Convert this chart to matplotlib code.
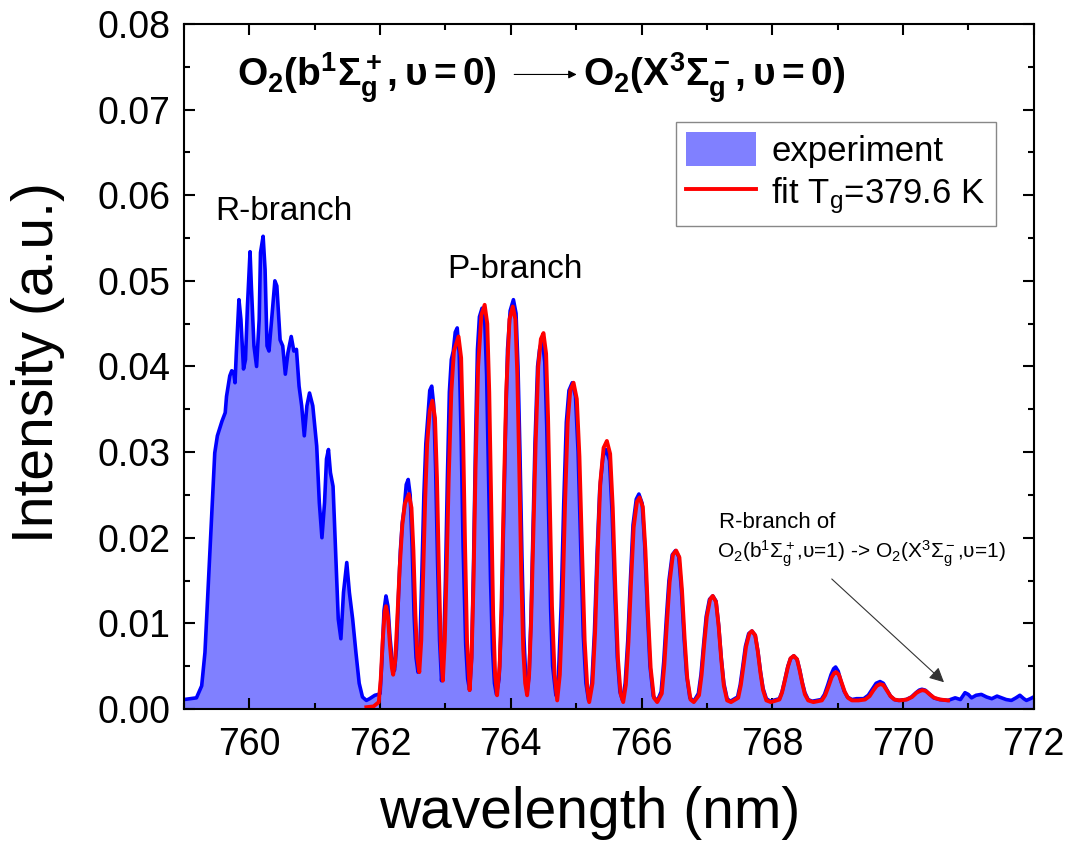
import numpy as np
import matplotlib
matplotlib.use("Agg")
import matplotlib.pyplot as plt
from matplotlib.patches import Patch
from matplotlib.lines import Line2D
from matplotlib.ticker import MultipleLocator, FormatStrFormatter

plt.rcParams['font.family'] = ['Liberation Sans', 'DejaVu Sans']
plt.rcParams['mathtext.fontset'] = 'custom'
plt.rcParams['mathtext.rm'] = 'Liberation Sans'
plt.rcParams['mathtext.it'] = 'Liberation Sans:italic'
plt.rcParams['mathtext.bf'] = 'Liberation Sans:bold'

exp_wl = [759.00, 759.09, 759.19, 759.27, 759.32, 759.37, 759.42, 759.47, 759.51, 759.58,
          759.63, 759.65, 759.70, 759.73, 759.76, 759.78, 759.80, 759.84, 759.87, 759.91,
          759.94, 759.97, 760.01, 760.03, 760.07, 760.11, 760.15, 760.17, 760.21, 760.24,
          760.27, 760.30, 760.34, 760.39, 760.42, 760.47, 760.51, 760.55, 760.59, 760.64,
          760.68, 760.72, 760.76, 760.80, 760.84, 760.88, 760.92, 760.97, 761.03, 761.07,
          761.11, 761.15, 761.18, 761.21, 761.24, 761.28, 761.32, 761.36, 761.40, 761.44,
          761.49, 761.53, 761.58, 761.63, 761.68, 761.73, 761.79, 761.84, 761.92, 761.97,
          762.00, 762.03, 762.06, 762.09, 762.12, 762.15, 762.19, 762.22,
          762.25, 762.28, 762.31, 762.34, 762.37, 762.40, 762.43, 762.46, 762.49, 762.52, 762.55, 762.58,
          762.61, 762.64, 762.67, 762.70, 762.73, 762.76, 762.79, 762.82, 762.85, 762.88, 762.91, 762.94,
          762.97, 763.00, 763.03, 763.06, 763.09, 763.12, 763.15, 763.18, 763.21, 763.24, 763.27, 763.31,
          763.34, 763.37,
          763.40, 763.43, 763.46, 763.49, 763.52, 763.56, 763.60, 763.63, 763.66, 763.69, 763.72, 763.75,
          763.78,
          763.82, 763.86, 763.89, 763.92, 763.95, 763.99, 764.04, 764.08, 764.11, 764.14, 764.17, 764.20,
          764.23, 764.25,
          764.28, 764.31, 764.34, 764.37, 764.41, 764.44, 764.48, 764.52, 764.55, 764.58, 764.61, 764.64,
          764.69,
          764.73, 764.77, 764.81, 764.85, 764.89, 764.94, 764.99, 765.03, 765.07, 765.11, 765.15, 765.19,
          765.24, 765.28, 765.32, 765.36, 765.41, 765.46, 765.51, 765.55, 765.59, 765.63, 765.67, 765.71,
          765.75, 765.79, 765.83, 765.87, 765.92, 765.96, 766.01, 766.05, 766.09, 766.13, 766.18, 766.24,
          766.30, 766.34, 766.38, 766.42, 766.47, 766.52, 766.57, 766.61, 766.65, 766.69, 766.74, 766.80,
          766.87, 766.91, 766.95, 766.99, 767.04, 767.09, 767.14, 767.18, 767.22, 767.26, 767.31, 767.36,
          767.47, 767.51, 767.55, 767.59, 767.64, 767.69, 767.74, 767.78, 767.82, 767.86, 767.91, 767.97,
          768.11, 768.15, 768.19, 768.24, 768.28, 768.33, 768.38, 768.42, 768.46, 768.50, 768.55, 768.61,
          768.75, 768.80, 768.85, 768.90, 768.94, 768.97, 769.01, 769.05, 769.10, 769.15, 769.22, 769.29,
          769.40, 769.47, 769.53, 769.59, 769.65, 769.70, 769.75, 769.81, 769.87, 769.93,
          770.05, 770.13, 770.20, 770.25, 770.29, 770.34, 770.40, 770.47, 770.56, 770.69,
          770.80, 770.88, 770.95, 771.00, 771.05, 771.12, 771.20, 771.28, 771.36, 771.44,
          771.51, 771.58, 771.66, 771.73, 771.79, 771.85, 771.89, 771.95, 772.00]
exp_int = [0.0011, 0.0012, 0.0013, 0.0027, 0.0066, 0.0144, 0.0222, 0.0299, 0.0319, 0.0336,
           0.0346, 0.0365, 0.0389, 0.0395, 0.0393, 0.0381, 0.0416, 0.0478, 0.0455, 0.0397,
           0.0408, 0.0470, 0.0534, 0.0494, 0.0424, 0.0400, 0.0455, 0.0533, 0.0552, 0.0513,
           0.0424, 0.0418, 0.0455, 0.0500, 0.0494, 0.0431, 0.0424, 0.0391, 0.0416, 0.0435,
           0.0418, 0.0420, 0.0377, 0.0354, 0.0319, 0.0354, 0.0369, 0.0354, 0.0307, 0.0241,
           0.0200, 0.0241, 0.0292, 0.0303, 0.0276, 0.0260, 0.0183, 0.0105, 0.0082, 0.0136,
           0.0171, 0.0136, 0.0105, 0.0066, 0.0030, 0.0014, 0.0010, 0.0012, 0.0016, 0.0017,
           0.0018, 0.0060, 0.0115, 0.0132, 0.0120, 0.0085, 0.0052, 0.0045,
           0.0070, 0.0130, 0.0185, 0.0218, 0.0235, 0.0262, 0.0268, 0.0250, 0.0190, 0.0110, 0.0060, 0.0043,
           0.0075, 0.0160, 0.0250, 0.0310, 0.0340, 0.0372, 0.0377, 0.0355, 0.0280, 0.0170, 0.0080, 0.0033,
           0.0060, 0.0150, 0.0270, 0.0370, 0.0408, 0.0418, 0.0440, 0.0445, 0.0415, 0.0320, 0.0190, 0.0075,
           0.0035, 0.0022,
           0.0060, 0.0170, 0.0310, 0.0420, 0.0458, 0.0468, 0.0455, 0.0390, 0.0270, 0.0150, 0.0070, 0.0030,
           0.0017,
           0.0035, 0.0110, 0.0220, 0.0330, 0.0420, 0.0465, 0.0478, 0.0462, 0.0400, 0.0300, 0.0180, 0.0085,
           0.0035, 0.0019,
           0.0040, 0.0110, 0.0210, 0.0310, 0.0400, 0.0420, 0.0432, 0.0405, 0.0330, 0.0220, 0.0115, 0.0050,
           0.0016,
           0.0040, 0.0120, 0.0240, 0.0335, 0.0372, 0.0381, 0.0365, 0.0300, 0.0190, 0.0085, 0.0030, 0.0010,
           0.0030, 0.0090, 0.0180, 0.0255, 0.0295, 0.0303, 0.0290, 0.0230, 0.0140, 0.0060, 0.0020, 0.0010,
           0.0030, 0.0080, 0.0150, 0.0215, 0.0245, 0.0251, 0.0240, 0.0190, 0.0115, 0.0050, 0.0015, 0.0009,
           0.0020, 0.0055, 0.0105, 0.0150, 0.0180, 0.0185, 0.0178, 0.0140, 0.0085, 0.0040, 0.0013, 0.0009,
           0.0018, 0.0040, 0.0075, 0.0108, 0.0128, 0.0132, 0.0126, 0.0098, 0.0060, 0.0030, 0.0012, 0.0009,
           0.0014, 0.0028, 0.0050, 0.0073, 0.0088, 0.0091, 0.0086, 0.0068, 0.0044, 0.0024, 0.0012, 0.0009,
           0.0012, 0.0020, 0.0033, 0.0050, 0.0059, 0.0062, 0.0058, 0.0046, 0.0031, 0.0019, 0.0011, 0.0009,
           0.0011, 0.0017, 0.0028, 0.0040, 0.0047, 0.0049, 0.0044, 0.0033, 0.0021, 0.0014, 0.0011, 0.0012,
           0.0012, 0.0016, 0.0023, 0.0030, 0.0032, 0.0030, 0.0023, 0.0015, 0.0011, 0.0010,
           0.0011, 0.0014, 0.0019, 0.0022, 0.0023, 0.0022, 0.0018, 0.0013, 0.0011, 0.0010,
           0.0013, 0.0011, 0.0019, 0.0017, 0.0013, 0.0016, 0.0017, 0.0014, 0.0012, 0.0015,
           0.0013, 0.0011, 0.0010, 0.0013, 0.0016, 0.0012, 0.0010, 0.0012, 0.0014]

# simulated fit
fit_wl = [761.79, 761.90, 761.98, 762.01, 762.04, 762.07, 762.09, 762.12, 762.15, 762.18, 762.20,
          762.23, 762.26, 762.30, 762.34, 762.38, 762.44, 762.48, 762.51, 762.54, 762.57, 762.60,
          762.63, 762.66, 762.69, 762.72, 762.76, 762.80, 762.84, 762.87, 762.90, 762.93, 762.96,
          762.99, 763.02, 763.05, 763.09, 763.13, 763.20, 763.24, 763.27, 763.30, 763.33, 763.37,
          763.40, 763.43, 763.46, 763.50, 763.55, 763.60, 763.64, 763.67, 763.70, 763.73, 763.76, 763.79,
          763.83, 763.86, 763.89, 763.93, 763.98, 764.03, 764.07, 764.10, 764.13, 764.16, 764.19, 764.22,
          764.25,
          764.28, 764.31, 764.34, 764.38, 764.42, 764.46, 764.50, 764.54, 764.57, 764.60, 764.63, 764.67,
          764.71,
          764.75, 764.79, 764.83, 764.87, 764.91, 764.96, 765.01, 765.05, 765.09, 765.13, 765.17, 765.20,
          765.25, 765.29, 765.33, 765.37, 765.42, 765.47, 765.52, 765.56, 765.60, 765.64, 765.68, 765.72,
          765.76, 765.80, 765.84, 765.88, 765.93, 765.97, 766.02, 766.06, 766.10, 766.14, 766.19, 766.24,
          766.31, 766.35, 766.39, 766.43, 766.48, 766.53, 766.58, 766.62, 766.66, 766.70, 766.75, 766.80,
          766.88, 766.92, 766.96, 767.00, 767.05, 767.09, 767.14, 767.18, 767.22, 767.26, 767.31, 767.37,
          767.48, 767.52, 767.56, 767.60, 767.65, 767.69, 767.74, 767.78, 767.82, 767.86, 767.91, 767.98,
          768.11, 768.15, 768.19, 768.24, 768.28, 768.33, 768.38, 768.42, 768.46, 768.50, 768.55, 768.63,
          768.76, 768.81, 768.86, 768.91, 768.95, 768.98, 769.02, 769.06, 769.11, 769.16, 769.22, 769.32,
          769.42, 769.49, 769.55, 769.60, 769.65, 769.70, 769.75, 769.81, 769.87, 769.95,
          770.06, 770.14, 770.21, 770.26, 770.30, 770.35, 770.41, 770.48, 770.57, 770.69]
fit_int = [0.0002, 0.0003, 0.0008, 0.0035, 0.0080, 0.0113, 0.0120, 0.0108, 0.0075, 0.0048, 0.0040,
           0.0055, 0.0100, 0.0165, 0.0215, 0.0240, 0.0251, 0.0235, 0.0185, 0.0110, 0.0060, 0.0043,
           0.0080, 0.0160, 0.0245, 0.0310, 0.0348, 0.0360, 0.0340, 0.0270, 0.0160, 0.0070, 0.0033,
           0.0080, 0.0170, 0.0270, 0.0370, 0.0418, 0.0435, 0.0410, 0.0320, 0.0190, 0.0080, 0.0022,
           0.0060, 0.0150, 0.0280, 0.0400, 0.0460, 0.0472, 0.0450, 0.0370, 0.0240, 0.0110, 0.0040, 0.0016,
           0.0050, 0.0130, 0.0240, 0.0370, 0.0455, 0.0470, 0.0455, 0.0390, 0.0280, 0.0160, 0.0070, 0.0030,
           0.0016,
           0.0040, 0.0100, 0.0190, 0.0310, 0.0400, 0.0432, 0.0439, 0.0415, 0.0340, 0.0230, 0.0120, 0.0040,
           0.0010,
           0.0040, 0.0120, 0.0240, 0.0335, 0.0372, 0.0381, 0.0362, 0.0295, 0.0185, 0.0080, 0.0025, 0.0008,
           0.0030, 0.0090, 0.0185, 0.0265, 0.0305, 0.0313, 0.0298, 0.0235, 0.0140, 0.0058, 0.0018, 0.0008,
           0.0028, 0.0078, 0.0148, 0.0212, 0.0242, 0.0247, 0.0236, 0.0185, 0.0110, 0.0048, 0.0013, 0.0008,
           0.0018, 0.0052, 0.0102, 0.0148, 0.0180, 0.0185, 0.0177, 0.0138, 0.0082, 0.0036, 0.0011, 0.0008,
           0.0016, 0.0040, 0.0076, 0.0108, 0.0128, 0.0132, 0.0125, 0.0097, 0.0058, 0.0027, 0.0010, 0.0008,
           0.0013, 0.0028, 0.0050, 0.0073, 0.0088, 0.0091, 0.0086, 0.0067, 0.0042, 0.0022, 0.0010, 0.0008,
           0.0011, 0.0019, 0.0032, 0.0049, 0.0059, 0.0062, 0.0058, 0.0045, 0.0030, 0.0017, 0.0010, 0.0008,
           0.0010, 0.0016, 0.0026, 0.0037, 0.0042, 0.0043, 0.0040, 0.0031, 0.0020, 0.0013, 0.0010, 0.0010,
           0.0011, 0.0015, 0.0022, 0.0027, 0.0029, 0.0028, 0.0022, 0.0015, 0.0011, 0.0010,
           0.0011, 0.0014, 0.0019, 0.0021, 0.0022, 0.0021, 0.0017, 0.0013, 0.0011, 0.0010]

fig = plt.figure(figsize=(10.7, 8.43), dpi=100)
ax = fig.add_axes([0.172, 0.159, 0.794, 0.8126])

ax.fill_between(exp_wl, exp_int, 0, color='#8080ff', lw=0)
ax.plot(exp_wl, exp_int, color='#0000ff', lw=2.6, solid_joinstyle='round')
ax.plot(fit_wl, fit_int, color='#ff0000', lw=2.8, solid_joinstyle='round')

ax.set_xlim(759, 772)
ax.set_ylim(0, 0.08)
ax.xaxis.set_major_locator(MultipleLocator(2))
ax.xaxis.set_minor_locator(MultipleLocator(1))
ax.yaxis.set_major_locator(MultipleLocator(0.01))
ax.yaxis.set_minor_locator(MultipleLocator(0.005))
ax.yaxis.set_major_formatter(FormatStrFormatter('%.2f'))
ax.tick_params(which='both', direction='in', top=True, right=True, width=1.5,
               labelsize=27, pad=10)
ax.tick_params(axis='x', which='both', pad=13)
ax.tick_params(which='major', length=8)
ax.tick_params(which='minor', length=4.5)
for s in ax.spines.values():
    s.set_linewidth(1.5)

ax.set_xlabel('wavelength (nm)', fontsize=41)
ax.set_ylabel('Intensity (a.u.)', fontsize=41)
ax.xaxis.set_label_coords(0.478, -0.112)
ax.yaxis.set_label_coords(-0.14, 0.505)

# heading with the transition
ax.text(759.81, 0.0737, r'$\mathbf{O_2(b^1\Sigma_g^+,\upsilon=0)}$', fontsize=28,
        va='center', ha='left')
ax.annotate('', xy=(765.05, 0.0741), xytext=(764.01, 0.0741),
            arrowprops=dict(arrowstyle='-|>', color='black', lw=0.8, mutation_scale=12))
ax.text(765.1, 0.0737, r'$\mathbf{O_2(X^3\Sigma_g^-,\upsilon=0)}$', fontsize=28,
        va='center', ha='left')

ax.text(759.47, 0.0581, 'R-branch', fontsize=24, va='center', ha='left')
ax.text(763.02, 0.0513, 'P-branch', fontsize=24, va='center', ha='left')

ax.text(767.18, 0.0218, 'R-branch of', fontsize=16, va='center', ha='left')
ax.text(767.15, 0.0181,
        r'O$_2$(b$^1\Sigma_\mathrm{g}^+$,υ=1) -> O$_2$(X$^3\Sigma_\mathrm{g}^-$,υ=1)',
        fontsize=15, va='center', ha='left')
ax.annotate('', xy=(770.66, 0.0029), xytext=(768.88, 0.0154),
            arrowprops=dict(arrowstyle='-|>', color='#333333', lw=0.8, mutation_scale=22))

handles = [Patch(facecolor='#8080ff', edgecolor='none'),
           Line2D([0], [0], color='#ff0000', lw=2.8)]
leg = ax.legend(handles, ['experiment', r'fit T$_\mathrm{g}$=379.6 K'], loc='upper right',
                bbox_to_anchor=(0.956, 0.857), borderaxespad=0, fontsize=25,
                fancybox=False, framealpha=1, edgecolor='#888888', handlelength=2.0,
                handleheight=1.1, borderpad=0.3, labelspacing=0.2, handletextpad=0.45)
leg.get_frame().set_linewidth(1.0)

fig.savefig('out.png', dpi=100)
